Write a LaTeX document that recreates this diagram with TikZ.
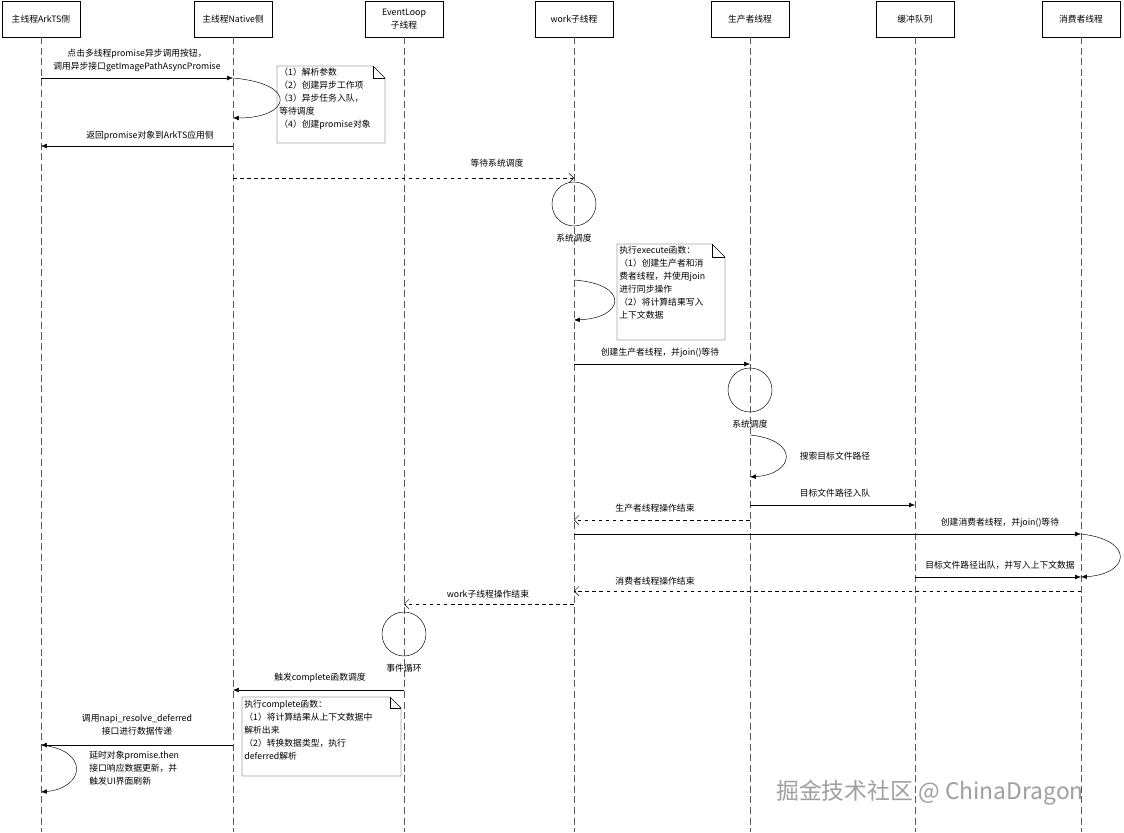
\documentclass[tikz,border=0pt]{standalone}
\usepackage{fontspec}
\setmainfont{Noto Sans CJK SC}
\usetikzlibrary{arrows.meta}
\tikzset{
  head/.style={draw,minimum width=78\pgfxx,minimum height=36\pgfxx,inner sep=1pt,align=center},
  life/.style={dashed,dash pattern=on 6pt off 3pt,gray!70!black},
  msg/.style={-{Latex[length=5pt,width=4pt]},thin},
  ret/.style={dashed,-{Straight Barb[length=4pt]},thin},
  lbl/.style={inner sep=1pt,align=center},
  sched/.style={draw,circle,minimum size=44\pgfxx,inner sep=0pt},
  note/.style={draw,thin},
}
\newdimen\pgfxx \pgfxx=0.03cm
\begin{document}
\begin{tikzpicture}[x=0.03cm,y=-0.03cm,font=\fontsize{7.5}{11}\selectfont]
\useasboundingbox (0,0) rectangle (1124,832);
% headers and lifelines
\node[head] (ark) at (41,19) {主线程ArkTS侧};
\node[head] (nat) at (233,19) {主线程Native侧};
\node[head] (evl) at (404,19) {EventLoop\\子线程};
\node[head] (wrk) at (574,19) {work子线程};
\node[head] (pro) at (750,19) {生产者线程};
\node[head] (buf) at (915,19) {缓冲队列};
\node[head] (con) at (1081,19) {消费者线程};
\foreach \n in {ark,nat,evl,wrk,pro,buf,con}
  \draw[life] (\n.south) -- (\n |- 0,832);

% call from ArkTS
\draw[msg] (ark |- 0,78) -- (nat |- 0,78);
\node[lbl] at (137,60) {点击多线程promise异步调用按钮，\\调用异步接口getImagePathAsyncPromise};
\draw[msg] (nat |- 0,78) .. controls (300,84) and (290,118) .. (nat |- 0,118);
\draw[note] (277,66) -- (373,66) -- (385,78) -- (385,143) -- (277,143) -- cycle;
\draw[note] (373,66) -- (373,78) -- (385,78);
\node[lbl,anchor=north west,align=left] at (278,67) {（1）解析参数\\（2）创建异步工作项\\（3）异步任务入队，\\等待调度\\（4）创建promise对象};
\draw[msg] (nat |- 0,146) -- (ark |- 0,146);
\node[lbl] at (150,136) {返回promise对象到ArkTS应用侧};

% work thread
\draw[ret] (nat |- 0,178) -- (wrk |- 0,178);
\node[lbl] at (497,163) {等待系统调度};
\node[sched] (c1) at (574,204) {};
\node[lbl] at (574,238) {系统调度};
\draw[note] (617,244) -- (712,244) -- (725,257) -- (725,340) -- (617,340) -- cycle;
\draw[note] (712,244) -- (712,257) -- (725,257);
\node[lbl,anchor=north west,align=left] at (618,245) {执行execute函数：\\（1）创建生产者和消\\费者线程，并使用join\\进行同步操作\\（2）将计算结果写入\\上下文数据};
\draw[msg] (wrk |- 0,280) .. controls (630,284) and (625,318) .. (wrk |- 0,320);

% producer
\draw[msg] (wrk |- 0,364) -- (pro |- 0,364);
\node[lbl] at (660,353) {创建生产者线程，并join()等待};
\node[sched] (c2) at (750,390) {};
\node[lbl] at (750,424) {系统调度};
\draw[msg] (pro |- 0,435) .. controls (800,440) and (795,474) .. (pro |- 0,477);
\node[lbl] at (835,456) {搜索目标文件路径};
\draw[msg] (pro |- 0,505) -- (buf |- 0,505);
\node[lbl] at (835,493) {目标文件路径入队};
\draw[ret] (pro |- 0,520) -- (wrk |- 0,520);
\node[lbl] at (655,508) {生产者线程操作结束};

% consumer
\draw[msg] (wrk |- 0,534) -- (con |- 0,534);
\node[lbl] at (1000,523) {创建消费者线程，并join()等待};
\draw[msg] (con |- 0,534) .. controls (1135,540) and (1130,574) .. (con |- 0,577);
\draw[msg] (buf |- 0,577) -- (con |- 0,577);
\node[lbl] at (1000,565) {目标文件路径出队，并写入上下文数据};
\draw[ret] (con |- 0,591) -- (wrk |- 0,591);
\node[lbl] at (655,581) {消费者线程操作结束};
\draw[ret] (wrk |- 0,604) -- (evl |- 0,604);
\node[lbl] at (488,594) {work子线程操作结束};

% event loop
\node[sched] (c3) at (404,634) {};
\node[lbl] at (404,668) {事件循环};
\draw[msg] (evl |- 0,690) -- (nat |- 0,690);
\node[lbl] at (320,678) {触发complete函数调度};
\draw[note] (242,697) -- (390,697) -- (401,708) -- (401,776) -- (242,776) -- cycle;
\draw[note] (390,697) -- (390,708) -- (401,708);
\node[lbl,anchor=north west,align=left] at (243,699) {执行complete函数：\\（1）将计算结果从上下文数据中\\解析出来\\（2）转换数据类型，执行\\deferred解析};
\draw[msg] (nat |- 0,745) -- (ark |- 0,745);
\node[lbl] at (137,725) {调用napi\_resolve\_deferred\\接口进行数据传递};
\draw[msg] (ark |- 0,745) .. controls (90,750) and (85,788) .. (ark |- 0,792);
\node[lbl,anchor=north west,align=left] at (88,750) {延时对象promise.then\\接口响应数据更新，并\\触发UI界面刷新};

\node[text=gray!75,font=\fontsize{19.5}{22}\selectfont] at (930,793) {掘金技术社区 @ ChinaDragon};
\end{tikzpicture}
\end{document}
